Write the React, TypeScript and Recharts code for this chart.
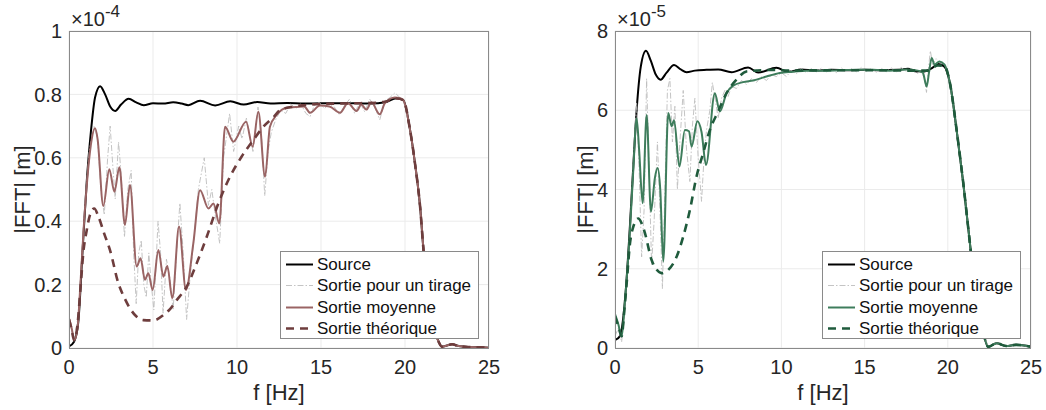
import React from 'react';
import { LineChart, Line, XAxis, YAxis, CartesianGrid } from 'recharts';

type Pt = [number, number];

const freqTicks = [0, 5, 10, 15, 20, 25];
const leftTicks = [0, 0.2, 0.4, 0.6, 0.8, 1];
const rightTicks = [0, 2, 4, 6, 8];
const legendLabels = ['Source', 'Sortie pour un tirage', 'Sortie moyenne', 'Sortie théorique'];

// left panel, values in 1e-4 m
const leftTail: Pt[] = [
  [19.9, 0.782], [20.3, 0.688], [20.6, 0.58], [20.9, 0.445], [21.1, 0.31], [21.5, 0.13],
  [21.8, 0.05], [22.0, 0.02], [22.2, 0.004], [22.5, 0.008], [22.8, 0.012], [23.2, 0.006],
  [23.8, 0.003], [24.5, 0.002], [25, 0.001],
];
const leftSource: Pt[] = [
  [0, 0.005], [0.3, 0.02], [0.55, 0.08], [0.8, 0.3], [1.05, 0.52], [1.3, 0.68], [1.55, 0.79],
  [1.85, 0.826], [2.15, 0.8], [2.45, 0.762], [2.75, 0.748], [3.1, 0.768], [3.55, 0.786],
  [4.0, 0.775], [4.45, 0.766], [5.0, 0.772], [5.6, 0.771], [6.2, 0.775], [6.7, 0.771],
  [7.1, 0.766], [7.8, 0.78], [8.7, 0.765], [9.6, 0.778], [10.4, 0.768], [11.2, 0.776],
  [12, 0.771], [13, 0.773], [14, 0.771], [15, 0.772], [16, 0.772], [17, 0.772], [18, 0.771],
  [18.8, 0.775], [19.5, 0.788],
];
const leftTirage: Pt[] = [
  [0, 0.09], [0.3, 0.02], [0.6, 0.12], [0.9, 0.42], [1.2, 0.62], [1.5, 0.7], [1.7, 0.66],
  [1.9, 0.5], [2.1, 0.42], [2.3, 0.6], [2.45, 0.7], [2.6, 0.58], [2.75, 0.47], [2.95, 0.65],
  [3.1, 0.55], [3.3, 0.35], [3.5, 0.5], [3.7, 0.56], [3.85, 0.3], [4.0, 0.14], [4.15, 0.3],
  [4.3, 0.34], [4.45, 0.2], [4.6, 0.16], [4.75, 0.3], [4.9, 0.2], [5.05, 0.12], [5.3, 0.4],
  [5.45, 0.3], [5.6, 0.11], [5.8, 0.28], [6.0, 0.22], [6.2, 0.12], [6.4, 0.3], [6.6, 0.457],
  [6.8, 0.3], [7.0, 0.09], [7.2, 0.22], [7.45, 0.35], [7.7, 0.5], [8.05, 0.6], [8.3, 0.45],
  [8.5, 0.5], [8.7, 0.42], [8.97, 0.33], [9.2, 0.6], [9.56, 0.74], [9.8, 0.62], [10.1, 0.7],
  [10.3, 0.66], [10.56, 0.725], [10.8, 0.66], [10.95, 0.62], [11.25, 0.76], [11.45, 0.68],
  [11.65, 0.48], [11.85, 0.62], [12.04, 0.68], [12.3, 0.72], [12.6, 0.75], [12.9, 0.74],
  [13.2, 0.77], [13.5, 0.755], [13.8, 0.77], [14.1, 0.74], [14.35, 0.73], [14.6, 0.765],
  [14.9, 0.775], [15.2, 0.755], [15.5, 0.77], [15.8, 0.76], [16.1, 0.735], [16.4, 0.765],
  [16.7, 0.785], [17.0, 0.74], [17.3, 0.775], [17.6, 0.745], [17.9, 0.785], [18.2, 0.76],
  [18.5, 0.72], [18.8, 0.78], [19.1, 0.79], [19.4, 0.805], [19.7, 0.79],
];
const leftMoyenne: Pt[] = [
  [0, 0.094], [0.15, 0.065], [0.32, 0.025], [0.5, 0.06], [0.7, 0.22], [0.9, 0.4], [1.1, 0.54],
  [1.3, 0.64], [1.55, 0.693], [1.7, 0.66], [2.04, 0.448], [2.4, 0.564], [2.7, 0.493],
  [3.0, 0.57], [3.33, 0.388], [3.63, 0.514], [4.03, 0.257], [4.26, 0.283], [4.52, 0.215],
  [4.72, 0.236], [4.98, 0.183], [5.32, 0.309], [5.62, 0.225], [5.85, 0.259], [6.15, 0.157],
  [6.55, 0.383], [6.96, 0.183], [7.4, 0.33], [7.8, 0.498], [8.3, 0.44], [8.6, 0.456],
  [8.95, 0.393], [9.29, 0.698], [9.78, 0.651], [10.54, 0.714], [10.93, 0.635], [11.27, 0.745],
  [11.67, 0.54], [11.96, 0.698], [12.36, 0.735], [12.96, 0.758], [13.5, 0.76], [14.0, 0.762],
  [14.35, 0.742], [14.94, 0.765], [15.5, 0.762], [16.13, 0.742], [16.6, 0.772], [17.12, 0.748],
  [17.4, 0.768], [17.7, 0.752], [18.0, 0.775], [18.5, 0.737], [18.8, 0.772], [19.4, 0.79],
  [19.7, 0.788],
];
const leftTheorique: Pt[] = [
  [0, 0.09], [0.15, 0.06], [0.3, 0.025], [0.5, 0.07], [0.7, 0.2], [0.85, 0.3], [1.05, 0.37],
  [1.25, 0.42], [1.5, 0.44], [1.75, 0.415], [2.1, 0.36], [2.44, 0.309], [2.94, 0.204],
  [3.3, 0.158], [3.63, 0.125], [4.0, 0.1], [4.42, 0.088], [5.02, 0.087], [5.62, 0.104],
  [6.0, 0.122], [6.41, 0.151], [7.0, 0.193], [7.6, 0.267], [8.2, 0.351], [8.89, 0.456],
  [9.58, 0.54], [10.28, 0.604], [10.97, 0.656], [11.6, 0.7], [12.2, 0.73], [12.56, 0.75],
  [13.2, 0.76], [14, 0.766], [15, 0.77], [16, 0.771], [17, 0.772], [18, 0.773], [18.8, 0.777],
  [19.5, 0.787],
];

// right panel, values in 1e-5 m
const rightTail: Pt[] = [
  [20.13, 6.68], [20.53, 5.5], [20.93, 4.16], [21.33, 2.64], [21.7, 1.3], [22.1, 0.45],
  [22.43, 0.03], [22.93, 0.12], [23.5, 0.05], [24.1, 0.08], [25, 0.03],
];
const rightSource: Pt[] = [
  [0, 0.2], [0.3, 0.3], [0.6, 1.2], [0.9, 3.1], [1.1, 4.6], [1.3, 6.0], [1.55, 7.1],
  [1.86, 7.5], [2.15, 7.25], [2.45, 6.9], [2.74, 6.77], [3.1, 6.95], [3.55, 7.14],
  [3.95, 7.03], [4.3, 6.96], [4.8, 7.0], [5.5, 7.02], [6.2, 7.03], [7.0, 6.96], [8.0, 7.08],
  [8.6, 6.95], [9.7, 7.07], [10.4, 6.97], [11.2, 7.03], [12, 7.0], [13, 7.02], [14, 7.01],
  [15, 7.02], [16, 7.01], [17, 7.02], [17.6, 7.05], [18.1, 6.98], [18.6, 6.98], [19.0, 7.05],
  [19.45, 7.17], [19.8, 7.1],
];
const rightTirage: Pt[] = [
  [0, 0.3], [0.2, 0.5], [0.4, 0.15], [0.6, 1.1], [0.9, 3.0], [1.1, 4.7], [1.3, 6.2],
  [1.45, 4.5], [1.6, 2.3], [1.75, 3.5], [1.9, 6.8], [2.05, 4.5], [2.2, 2.1], [2.35, 3.2],
  [2.55, 5.2], [2.7, 3.5], [2.85, 1.5], [3.0, 4.0], [3.15, 6.5], [3.3, 6.8], [3.45, 5.2],
  [3.6, 6.1], [3.75, 4.0], [3.9, 5.2], [4.1, 6.5], [4.3, 5.0], [4.5, 4.2], [4.65, 5.6],
  [4.8, 6.3], [5.0, 4.8], [5.2, 3.7], [5.35, 4.8], [5.5, 5.5], [5.7, 6.0], [5.85, 6.7],
  [6.05, 6.2], [6.2, 5.8], [6.4, 6.3], [6.6, 6.5], [6.8, 6.35], [7.0, 6.6], [7.3, 6.55],
  [7.6, 6.75], [7.9, 6.65], [8.2, 6.8], [8.5, 6.7], [8.8, 6.85], [9.1, 6.75], [9.4, 6.9],
  [9.7, 6.85], [10.0, 6.95], [10.3, 6.85], [10.6, 7.0], [10.9, 6.92], [11.2, 7.05],
  [11.5, 6.95], [11.8, 7.05], [12.1, 6.96], [12.4, 7.06], [12.7, 6.97], [13.0, 7.04],
  [13.3, 6.95], [13.6, 7.07], [13.9, 6.98], [14.2, 7.05], [14.5, 6.97], [14.8, 7.08],
  [15.1, 6.98], [15.4, 7.06], [15.7, 6.96], [16.0, 7.06], [16.3, 6.97], [16.6, 7.07],
  [16.9, 6.96], [17.2, 7.08], [17.5, 6.98], [17.8, 7.05], [18.1, 6.92], [18.4, 6.98],
  [18.6, 6.8], [18.72, 6.45], [18.85, 7.1], [18.95, 7.5], [19.1, 7.15], [19.3, 7.3],
  [19.5, 7.2], [19.8, 7.2],
];
const rightMoyenne: Pt[] = [
  [0, 0.86], [0.2, 0.6], [0.4, 0.29], [0.6, 1.2], [0.9, 2.98], [1.1, 4.5], [1.3, 5.8],
  [1.45, 5.0], [1.66, 3.65], [1.9, 5.88], [2.16, 3.44], [2.4, 4.3], [2.56, 4.54], [2.72, 4.0],
  [2.9, 2.18], [3.2, 5.93], [3.4, 5.6], [3.55, 5.75], [3.87, 4.58], [4.2, 5.5], [4.45, 5.47],
  [4.6, 5.08], [4.95, 5.72], [5.2, 5.45], [5.47, 4.62], [6.0, 6.43], [6.3, 5.97], [6.7, 6.43],
  [7.1, 6.62], [7.7, 6.71], [8.3, 6.75], [9.1, 6.85], [9.9, 6.94], [10.7, 6.97], [11.5, 7.0],
  [12.5, 7.0], [13.5, 7.01], [14.5, 7.02], [15.5, 7.02], [16.5, 7.0], [17.5, 7.03],
  [18.2, 7.0], [18.5, 6.95], [18.73, 6.6], [18.87, 6.95], [19.03, 7.32], [19.2, 7.15],
  [19.5, 7.23], [19.8, 7.15],
];
const rightTheorique: Pt[] = [
  [0, 0.8], [0.2, 0.55], [0.4, 0.3], [0.55, 0.9], [0.7, 1.63], [0.9, 2.64], [1.1, 3.06],
  [1.4, 3.27], [1.6, 3.15], [1.8, 2.9], [2.2, 2.22], [2.5, 1.98], [2.8, 1.89], [3.2, 1.97],
  [3.7, 2.3], [4.1, 2.81], [4.5, 3.48], [4.9, 4.33], [5.3, 4.92], [5.7, 5.5], [6.2, 5.97],
  [6.7, 6.43], [7.3, 6.77], [7.9, 6.98], [8.5, 7.0], [9.5, 7.02], [10.5, 7.0], [12, 7.01],
  [14, 7.01], [16, 7.01], [18, 7.0], [18.8, 7.0], [19.4, 7.13], [19.8, 7.12],
];

const FONT = '"Liberation Sans", Arial, Helvetica, sans-serif';
const TXT = '#262626';

const rows = (pts: Pt[], tail: Pt[]) => [...pts, ...tail].map(([f, v]) => ({ f, v }));

interface PanelProps {
  left: number;
  width: number;
  axisWidth: number;
  marginRight: number;
  yMax: number;
  yTicks: number[];
  exponent: string;
  labelX: number;
  source: Pt[];
  tirage: Pt[];
  moyenne: Pt[];
  theorique: Pt[];
  tail: Pt[];
  colMoy: string;
  colTheo: string;
}

const Panel: React.FC<PanelProps> = (p) => {
  const plotLeft = p.axisWidth;
  const plotRight = p.width - p.marginRight;
  const styles = [
    { stroke: '#000', width: 2, dash: undefined as string | undefined },
    { stroke: '#bdbdbd', width: 0.9, dash: '6 2 1.5 2' },
    { stroke: p.colMoy, width: 2, dash: undefined },
    { stroke: p.colTheo, width: 2.6, dash: '8 6' },
  ];
  const legendLeft = plotRight - 209;
  return (
    <div style={{ position: 'absolute', left: p.left, top: 0, width: p.width, height: 410 }}>
      <LineChart width={p.width} height={410} margin={{ top: 31, right: p.marginRight, bottom: 0, left: 0 }}>
        <CartesianGrid stroke="#ebebeb" />
        <XAxis
          type="number"
          dataKey="f"
          domain={[0, 25]}
          ticks={freqTicks}
          allowDataOverflow
          height={62}
          axisLine={false}
          tickLine={false}
          tickSize={0}
          tickMargin={12}
          tick={{ fill: TXT, fontSize: 20, fontFamily: FONT }}
          label={{ value: 'f [Hz]', position: 'insideBottom', offset: 10, fill: TXT, fontSize: 22, fontFamily: FONT }}
        />
        <YAxis
          type="number"
          domain={[0, p.yMax]}
          ticks={p.yTicks}
          allowDataOverflow
          width={p.axisWidth}
          axisLine={false}
          tickLine={false}
          tickSize={0}
          tickMargin={7}
          tick={{ fill: TXT, fontSize: 20, fontFamily: FONT }}
        />
        <Line data={rows(p.source, p.tail)} dataKey="v" type="monotone" stroke={styles[0].stroke} strokeWidth={styles[0].width} dot={false} isAnimationActive={false} />
        <Line data={rows(p.tirage, p.tail)} dataKey="v" type="linear" stroke={styles[1].stroke} strokeWidth={styles[1].width} strokeDasharray={styles[1].dash} dot={false} isAnimationActive={false} />
        <Line data={rows(p.moyenne, p.tail)} dataKey="v" type="monotone" stroke={styles[2].stroke} strokeWidth={styles[2].width} dot={false} isAnimationActive={false} />
        <Line data={rows(p.theorique, p.tail)} dataKey="v" type="monotone" stroke={styles[3].stroke} strokeWidth={styles[3].width} strokeDasharray={styles[3].dash} dot={false} isAnimationActive={false} />
      </LineChart>
      <svg width={p.width} height={410} style={{ position: 'absolute', left: 0, top: 0, pointerEvents: 'none' }}>
        <rect x={plotLeft + 0.5} y={31.5} width={plotRight - plotLeft - 1} height={317} fill="none" stroke="#8a8a8a" strokeWidth={1} />
        <text x={plotLeft + 2} y={26} fontFamily={FONT} fontSize={20} fill={TXT}>
          ×10<tspan dy={-9} fontSize={17}>{p.exponent}</tspan>
        </text>
        <text
          x={p.labelX}
          y={189.5}
          transform={`rotate(-90 ${p.labelX} 189.5)`}
          textAnchor="middle"
          dominantBaseline="central"
          fontFamily={FONT}
          fontSize={22}
          fill={TXT}
        >
          |FFT| [m]
        </text>
      </svg>
      <div
        style={{
          position: 'absolute',
          left: legendLeft,
          top: 251,
          width: 197,
          height: 86,
          border: '1px solid #8a8a8a',
          background: '#fff',
          fontFamily: FONT,
        }}
      >
        {legendLabels.map((name, i) => (
          <div key={name} style={{ position: 'absolute', left: 0, top: 2 + i * 21.3, height: 21, display: 'flex', alignItems: 'center' }}>
            <svg width={36} height={21}>
              <line x1={5} x2={32} y1={10.5} y2={10.5} stroke={styles[i].stroke} strokeWidth={styles[i].width} strokeDasharray={styles[i].dash} />
            </svg>
            <span style={{ fontSize: 17, lineHeight: '21px', color: '#111', whiteSpace: 'nowrap' }}>{name}</span>
          </div>
        ))}
      </div>
    </div>
  );
};

export default function App() {
  return (
    <div style={{ position: 'absolute', left: 0, top: 0, width: 1046, height: 410, background: '#fff' }}>
      <Panel
        left={0}
        width={520}
        axisWidth={69}
        marginRight={31}
        yMax={1}
        yTicks={leftTicks}
        exponent="-4"
        labelX={22}
        source={leftSource}
        tirage={leftTirage}
        moyenne={leftMoyenne}
        theorique={leftTheorique}
        tail={leftTail}
        colMoy="#9a6464"
        colTheo="#6e3d3d"
      />
      <Panel
        left={520}
        width={526}
        axisWidth={95}
        marginRight={15}
        yMax={8}
        yTicks={rightTicks}
        exponent="-5"
        labelX={65}
        source={rightSource}
        tirage={rightTirage}
        moyenne={rightMoyenne}
        theorique={rightTheorique}
        tail={rightTail}
        colMoy="#3e7d5c"
        colTheo="#1f5b3c"
      />
    </div>
  );
}
